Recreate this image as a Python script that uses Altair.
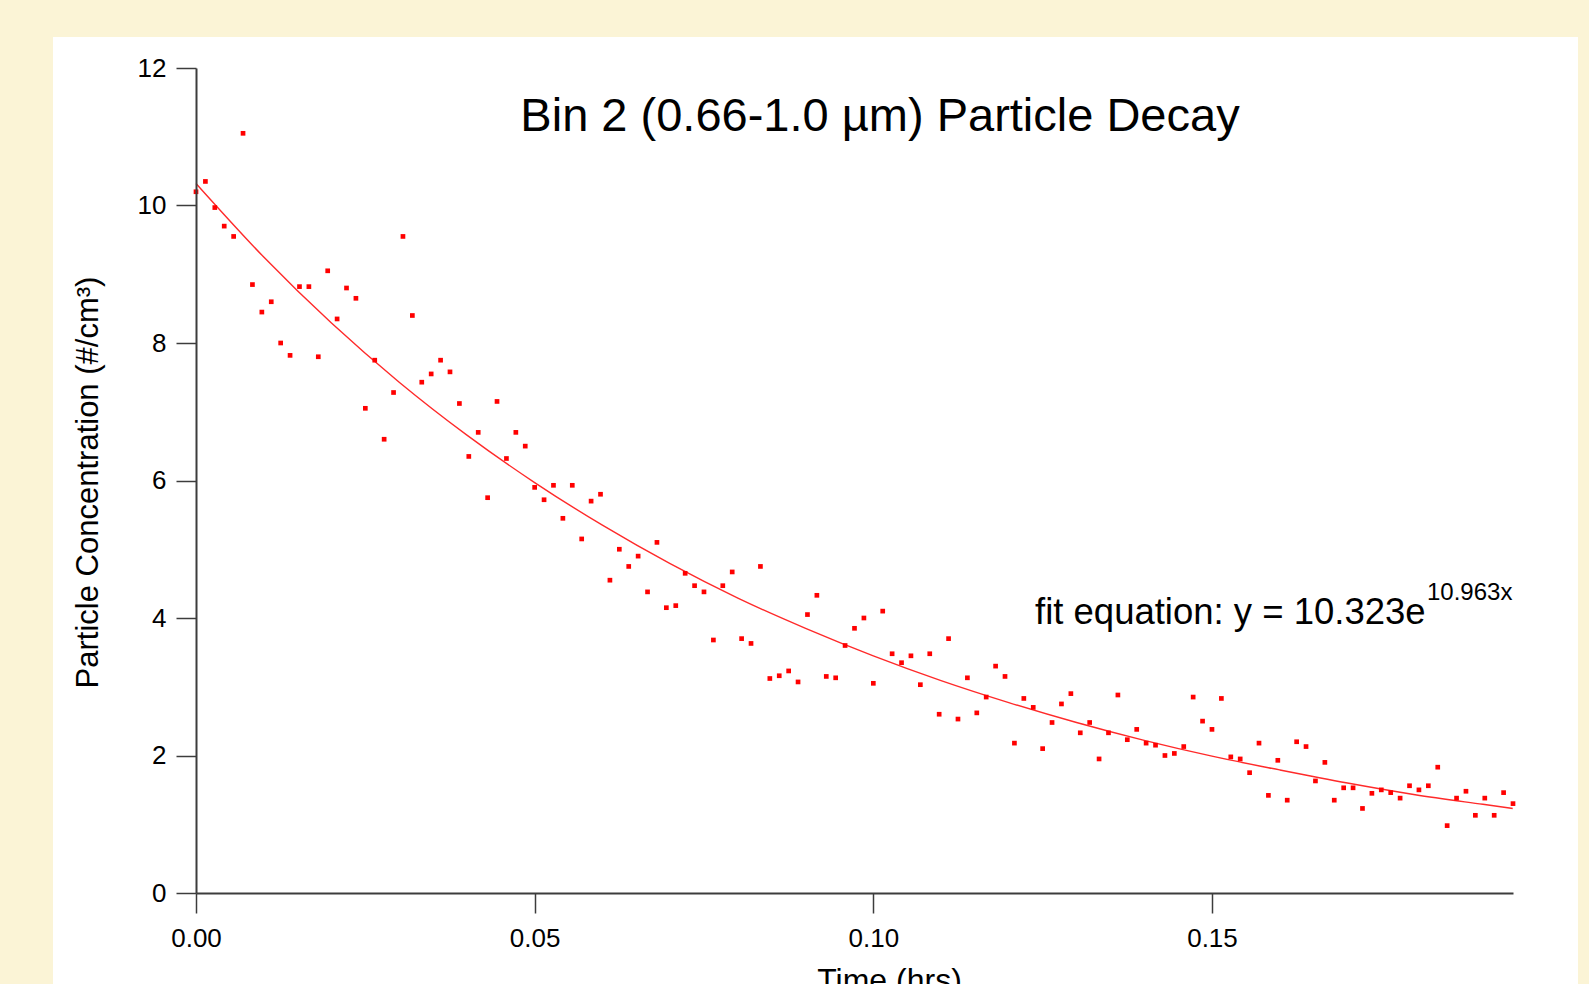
import altair as alt
import pandas as pd

# ---- data ----
time_s = [0, 5, 10, 15, 20, 25, 30, 35, 40, 45, 50, 55, 60, 65, 70, 75, 80, 85, 90, 95,
          100, 105, 110, 115, 120, 125, 130, 135, 140, 145, 150, 155, 160, 165, 170, 175,
          180, 185, 190, 195, 200, 205, 210, 215, 220, 225, 230, 235, 240, 245, 250, 255,
          260, 265, 270, 275, 280, 285, 290, 295, 300, 305, 310, 315, 320, 325, 330, 335,
          340, 345, 350, 355, 360, 365, 370, 375, 380, 385, 390, 395, 400, 405, 410, 415,
          420, 425, 430, 435, 440, 445, 450, 455, 460, 465, 470, 475, 480, 485, 490, 495,
          500, 505, 510, 515, 520, 525, 530, 535, 540, 545, 550, 555, 560, 565, 570, 575,
          580, 585, 590, 595, 600, 605, 610, 615, 620, 625, 630, 635, 640, 645, 650, 655,
          660, 665, 670, 675, 680, 685, 690, 695, 700]

conc = [10.20, 10.35, 9.97, 9.70, 9.55, 11.05, 8.85, 8.45, 8.60, 8.00,
        7.82, 8.82, 8.82, 7.80, 9.05, 8.35, 8.80, 8.65, 7.05, 7.75,
        6.60, 7.28, 9.55, 8.40, 7.43, 7.55, 7.75, 7.58, 7.12, 6.35,
        6.70, 5.75, 7.15, 6.32, 6.70, 6.50, 5.90, 5.72, 5.93, 5.45,
        5.93, 5.15, 5.70, 5.80, 4.55, 5.00, 4.75, 4.90, 4.38, 5.10,
        4.15, 4.18, 4.65, 4.47, 4.38, 3.68, 4.47, 4.67, 3.70, 3.63,
        4.75, 3.12, 3.16, 3.23, 3.07, 4.05, 4.33, 3.15, 3.13, 3.60,
        3.85, 4.00, 3.05, 4.10, 3.48, 3.35, 3.45, 3.03, 3.48, 2.60,
        3.70, 2.53, 3.13, 2.62, 2.85, 3.30, 3.15, 2.18, 2.83, 2.70,
        2.10, 2.48, 2.75, 2.90, 2.33, 2.48, 1.95, 2.33, 2.88, 2.23,
        2.38, 2.18, 2.15, 2.00, 2.03, 2.13, 2.85, 2.50, 2.38, 2.83,
        1.98, 1.95, 1.75, 2.18, 1.42, 1.93, 1.35, 2.20, 2.13, 1.63,
        1.90, 1.35, 1.53, 1.53, 1.23, 1.45, 1.50, 1.46, 1.38, 1.56,
        1.50, 1.56, 1.83, 0.98, 1.38, 1.48, 1.13, 1.38, 1.13, 1.46,
        1.30]

fit_time_hr = [0.00, 0.01, 0.02, 0.03, 0.04, 0.05, 0.06, 0.07, 0.08, 0.09, 0.10,
               0.11, 0.12, 0.13, 0.14, 0.15, 0.16, 0.17, 0.18, 0.19, 0.1944]
fit_conc = [10.32, 9.25, 8.29, 7.43, 6.66, 5.97, 5.35, 4.79, 4.29, 3.85, 3.45,
            3.09, 2.77, 2.48, 2.22, 1.99, 1.79, 1.60, 1.43, 1.29, 1.23]

x_ticks = [0.00, 0.05, 0.10, 0.15]
y_ticks = [0, 2, 4, 6, 8, 10, 12]

title_text = "Bin 2 (0.66-1.0 µm) Particle Decay"
fit_label = "fit equation: y = 10.323e"
fit_exponent = "10.963x"
x_title = "Time (hrs)"
y_title = "Particle Concentration (#/cm³)"

# ---- layout ----
W, H = 1317, 825
PAD_L, PAD_T = 196, 68
FONT = "Liberation Sans"
CREAM = "#FBF4D6"
AXIS_COL = "#3c3c3c"

pts = pd.DataFrame({"t": [s / 3600 for s in time_s], "c": conc})
fit = pd.DataFrame({"t": fit_time_hr, "c": fit_conc})

xscale = alt.Scale(domain=[0, 700 / 3600], nice=False, zero=False)
yscale = alt.Scale(domain=[0, 12], nice=False)

one = pd.DataFrame({"k": [0]})

panel = alt.Chart(one).mark_rect(color="white").encode(
    x=alt.value(53 - PAD_L), x2=alt.value(1578 - PAD_L),
    y=alt.value(37 - PAD_T), y2=alt.value(1000 - PAD_T),
)

x_axis = alt.Axis(
    values=x_ticks, format=".2f", title=x_title, grid=False, zindex=2,
    labelFlush=False, labelOverlap=False, labelPadding=12,
    titleX=693, titleY=72, titleBaseline="top", titleFontSize=32,
)
y_axis = alt.Axis(
    values=y_ticks, format="d", title=y_title, grid=False, zindex=2,
    labelFlush=False, labelOverlap=False, labelPadding=10,
    titleX=-92, titleY=414, titleAngle=270, titleBaseline="bottom",
    titleFontSize=31,
)

line = alt.Chart(fit).mark_line(color="#FF2a2a", strokeWidth=1.4, interpolate="monotone").encode(
    x=alt.X("t:Q", scale=xscale, axis=x_axis),
    y=alt.Y("c:Q", scale=yscale, axis=y_axis),
)

points = alt.Chart(pts).mark_point(shape="square", filled=True, size=22,
                                   color="#FF0000", opacity=1).encode(
    x=alt.X("t:Q", scale=xscale),
    y=alt.Y("c:Q", scale=yscale),
)

title_mark = alt.Chart(pd.DataFrame({"s": [title_text]})).mark_text(
    font=FONT, fontSize=47, color="black", align="center", baseline="alphabetic"
).encode(text="s:N", x=alt.value(880 - PAD_L), y=alt.value(131 - PAD_T))

fit_mark = alt.Chart(pd.DataFrame({"s": [fit_label]})).mark_text(
    font=FONT, fontSize=36.5, color="black", align="left", baseline="alphabetic"
).encode(text="s:N", x=alt.value(1035 - PAD_L), y=alt.value(624 - PAD_T))

exp_mark = alt.Chart(pd.DataFrame({"s": [fit_exponent]})).mark_text(
    font=FONT, fontSize=24, color="black", align="left", baseline="alphabetic"
).encode(text="s:N", x=alt.value(1427 - PAD_L), y=alt.value(600 - PAD_T))

chart = alt.layer(panel, line, points, title_mark, fit_mark, exp_mark).properties(
    width=W, height=H,
    autosize=alt.AutoSizeParams(type="none"),
    padding={"left": PAD_L, "top": PAD_T, "right": 1589 - PAD_L - W, "bottom": 984 - PAD_T - H},
    background=CREAM,
).configure_view(stroke=None).configure_axis(
    domainColor=AXIS_COL, domainWidth=2, tickColor=AXIS_COL, tickWidth=1.5, tickSize=20,
    labelFont=FONT, labelFontSize=26, labelColor="black",
    titleFont=FONT, titleColor="black", titleFontWeight="normal",
)

chart.save("out.html", embed_options={"renderer": "svg", "actions": False})
